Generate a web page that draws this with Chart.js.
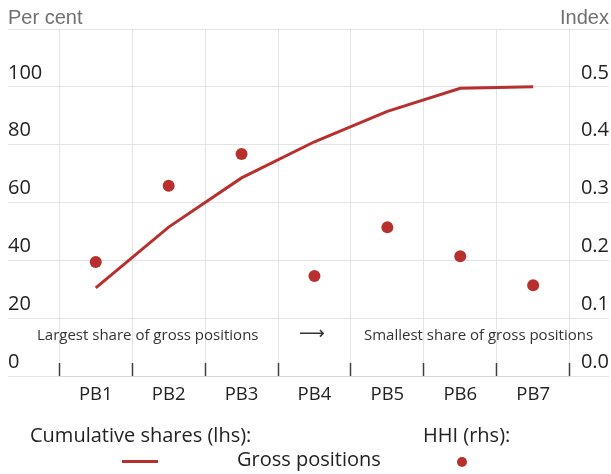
<!DOCTYPE html>
<html>
<head>
<meta charset="utf-8">
<script src="https://cdn.jsdelivr.net/npm/chart.js@4.4.1/dist/chart.umd.min.js"></script>
<style>
    html, body { margin: 0; padding: 0; background: #fff; }
    #wrap { position: relative; width: 611px; height: 474px; font-family: "Open Sans", sans-serif; }
    #chart { position: absolute; left: 0; top: 0; }
    .txt { position: absolute; white-space: nowrap; line-height: 1; }
    .axis-title { font-family: "Liberation Sans", Arial, sans-serif; font-size: 20px; color: #707070; }
    .note { font-size: 15px; color: #333; }
    .legend { font-size: 20px; color: #222; }
</style>
</head>
<body>
<div id="wrap">
    <canvas id="chart" width="611" height="474"></canvas>
    <div class="txt axis-title" style="left:8px; top:7px;">Per cent</div>
    <div class="txt axis-title" style="right:2px; top:7px;">Index</div>
    <div class="txt note" style="left:37px; top:327px;">Largest share of gross positions</div>
    <div class="txt note" style="left:299px; top:324px; font-family:'DejaVu Sans'; font-size:18px;">&#10230;</div>
    <div class="txt note" style="left:364px; top:327px;">Smallest share of gross positions</div>
    <div class="txt legend" style="left:30px; top:425px;">Cumulative shares (lhs):</div>
    <div class="txt legend" style="left:423px; top:425px;">HHI (rhs):</div>
    <div class="txt legend" style="left:237px; top:449px;">Gross positions</div>
    <div style="position:absolute; left:122px; top:460px; width:36px; height:3px; background:#b8302e;"></div>
    <div style="position:absolute; left:457px; top:457px; width:10px; height:10px; border-radius:50%; background:#b8302e;"></div>
</div>
<script>
    // --- Data ---
    const categories = ['PB1', 'PB2', 'PB3', 'PB4', 'PB5', 'PB6', 'PB7'];
    const cumulativeShares = [30.5, 51.5, 68.5, 81, 91.5, 99.5, 100];
    const hhiValues = [0.197, 0.329, 0.384, 0.173, 0.257, 0.207, 0.157];
    const lhsTickValues = [0, 20, 40, 60, 80, 100, 120];
    const rhsTickValues = [0, 0.1, 0.2, 0.3, 0.4, 0.5, 0.6];

    const red = '#b8302e';
    const gridColor = '#e4e4e4';
    const tickFont = { family: 'Open Sans', size: 20 };

    new Chart(document.getElementById('chart'), {
        type: 'line',
        data: {
            labels: categories,
            datasets: [{
                label: 'Gross positions',
                data: cumulativeShares,
                yAxisID: 'y',
                borderColor: red,
                borderWidth: 3,
                pointRadius: 0,
                tension: 0
            },
            {
                label: 'HHI',
                data: hhiValues,
                yAxisID: 'y1',
                showLine: false,
                pointRadius: 6,
                pointBorderWidth: 0,
                pointBackgroundColor: red,
                borderColor: red
            }]
        },
        options: {
            responsive: false,
            animation: false,
            layout: { padding: { left: 8, right: 2, top: 29, bottom: 58 } },
            plugins: {
                legend: { display: false },
                tooltip: { enabled: false }
            },
            scales: {
                x: {
                    offset: true,
                    // tick marks point up into the plot, like the original
                    grid: { offset: true, color: gridColor, tickColor: '#404040', tickLength: -13, tickWidth: 1.5 },
                    border: { display: true, color: '#d6d6d6' },
                    ticks: { color: '#222', font: { family: 'Open Sans', size: 18.5 }, padding: 21, maxRotation: 0, autoSkip: false },
                    afterFit: (scale) => { scale.height = 40; }
                },
                y: {
                    position: 'left',
                    min: 0,
                    max: 120,
                    afterBuildTicks: (scale) => { scale.ticks = lhsTickValues.map(v => ({ value: v })); },
                    grid: { color: gridColor, tickLength: 51.3 },
                    border: { display: false },
                    ticks: {
                        crossAlign: 'far',
                        labelOffset: -14,
                        padding: 0,
                        color: '#222',
                        font: tickFont,
                        callback: (value) => value === 120 ? '' : value
                    },
                    afterFit: (scale) => { scale.width = 51.3; }
                },
                y1: {
                    position: 'right',
                    min: 0,
                    max: 0.6,
                    afterBuildTicks: (scale) => { scale.ticks = rhsTickValues.map(v => ({ value: v })); },
                    grid: { color: gridColor, tickLength: 39.4, drawOnChartArea: false },
                    border: { display: false },
                    ticks: {
                        crossAlign: 'far',
                        labelOffset: -14,
                        padding: 0,
                        color: '#222',
                        font: tickFont,
                        callback: (value) => value > 0.55 ? '' : value.toFixed(1)
                    },
                    afterFit: (scale) => { scale.width = 39.4; }
                }
            }
        }
    });
</script>
</body>
</html>
